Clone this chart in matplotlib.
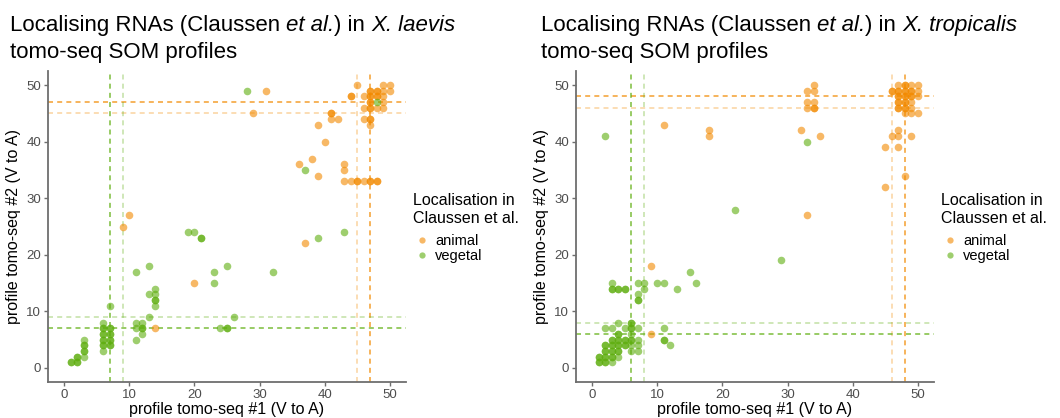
'''
scatter of SOM profile positions of localising RNAs in two tomo-seq runs, X. laevis and X. tropicalis
'''
## Imports
import matplotlib
matplotlib.use("Agg")
import matplotlib.pyplot as plt
from matplotlib.lines import Line2D
from matplotlib.text import Annotation

plt.rcParams['font.family'] = ['Liberation Sans', 'DejaVu Sans']

## ---- data: X. laevis ----
laevis_animal_x = [10, 9, 20, 14, 37, 31, 29, 45, 49, 50, 47, 47, 48, 48, 49, 50, 44, 44, 46, 47, 47, 48, 48, 49,
                   47, 47, 49, 46, 47, 47, 48, 49, 41, 41, 41, 42, 46, 47, 47, 47, 39, 40, 38, 36, 39, 43, 43,
                   43, 44, 45, 45, 46, 47, 47, 48, 48]
laevis_animal_y = [27, 25, 15, 7, 22, 49, 45, 50, 50, 50, 49, 49, 49, 49, 49, 49, 48, 48, 48, 48, 48, 48, 48, 48,
                   47, 47, 47, 46, 46, 46, 46, 46, 45, 45, 44, 44, 44, 44, 44, 43, 43, 40, 37, 36, 34, 36, 35,
                   33, 33, 33, 33, 33, 33, 33, 33, 33]
laevis_vegetal_x = [28, 48, 37, 39, 43, 19, 20, 21, 21, 11, 13, 23, 23, 25, 32, 26, 24, 25, 25, 14, 14, 14, 14, 14,
                    13, 13, 11, 12, 11, 12, 12, 12, 11, 7, 7, 7, 7, 7, 7, 7, 7, 7, 6, 6, 6, 6, 6, 6, 6, 6, 6,
                    6, 3, 3, 3, 3, 3, 3, 2, 2, 2, 2, 1, 1]
laevis_vegetal_y = [49, 47, 35, 23, 24, 24, 24, 23, 23, 17, 18, 17, 15, 18, 17, 9, 7, 7, 7, 14, 13, 12, 12, 11,
                    13, 9, 8, 8, 7, 7, 7, 6, 5, 11, 7, 7, 6, 6, 5, 5, 4, 4, 8, 7, 7, 6, 6, 5, 5, 4, 4,
                    3, 5, 4, 4, 3, 3, 2, 2, 2, 1, 1, 1, 1]
laevis_animal_lines = [45, 47]    # light, dark
laevis_vegetal_lines = [9, 7]     # light, dark

## ---- data: X. tropicalis ----
trop_animal_x = [11, 18, 18, 9, 9, 34, 33, 34, 33, 34, 33, 34, 34, 32, 35, 33, 45, 48, 45, 47, 46, 47, 47, 49,
                 47, 48, 48, 49, 50, 46, 46, 47, 47, 48, 48, 49, 49, 50, 47, 47, 48, 48, 49, 49, 50,
                 47, 47, 48, 48, 49, 47, 47, 48, 48, 49, 48, 49, 50]
trop_animal_y = [43, 42, 41, 18, 6, 50, 49, 49, 47, 47, 46, 46, 46, 42, 41, 27, 32, 34, 39, 39, 41, 41, 42, 41,
                 50, 50, 50, 50, 50, 49, 49, 49, 49, 49, 49, 49, 49, 49, 48, 48, 48, 48, 48, 48, 48,
                 47, 47, 47, 47, 47, 46, 46, 46, 46, 46, 45, 45, 45]
trop_vegetal_x = [2, 22, 33, 29, 15, 16, 13, 10, 11, 7, 8, 8, 7, 7, 7, 3, 3, 3, 4, 4, 5, 5, 11, 11, 11, 12,
                  4, 6, 6, 2, 3, 5, 6, 6, 7, 4, 4, 6,
                  3, 3, 4, 4, 5, 5, 6, 6, 7,
                  2, 2, 3, 3, 4, 4, 5, 5, 6, 7,
                  2, 2, 3, 3, 4, 4, 6, 7,
                  1, 1, 2, 2, 3, 3, 4, 1, 1, 2, 2, 3]
trop_vegetal_y = [41, 28, 40, 19, 17, 15, 14, 15, 15, 15, 15, 14, 13, 12, 12, 15, 14, 14, 14, 14, 14, 14, 7, 5, 5, 4,
                  8, 8, 8, 7, 7, 7, 7, 7, 7, 6, 6, 6,
                  5, 5, 5, 5, 5, 5, 5, 5, 5,
                  4, 4, 4, 4, 4, 4, 4, 4, 4, 4,
                  3, 3, 3, 3, 3, 3, 3, 3,
                  2, 2, 2, 2, 2, 2, 2, 1, 1, 1, 1, 1]
trop_animal_lines = [46, 48]
trop_vegetal_lines = [8, 6]

## title pieces: (text, italic)
title_laevis = [('Localising RNAs (Claussen ', False), ('et al.', True), (') in ', False), ('X. laevis', True)]
title_trop = [('Localising RNAs (Claussen ', False), ('et al.', True), (') in ', False), ('X. tropicalis', True)]
subtitle = 'tomo-seq SOM profiles'

## colours
ORANGE = '#F28A00'
GREEN = '#5EAE0E'

def draw_panel(ax, ax_x, ax_y, av_x, av_y, a_lines, v_lines):
    '''
    draws one panel: reference lines, points, axes styling
    '''
    ## dashed reference lines, first one light, second one dark
    for val, alpha in zip(a_lines, [0.35, 0.75]):
        ax.axhline(val, color=ORANGE, alpha=alpha, lw=1.2, ls=(0, (3, 2.5)), zorder=1)
        ax.axvline(val, color=ORANGE, alpha=alpha, lw=1.2, ls=(0, (3, 2.5)), zorder=1)
    for val, alpha in zip(v_lines, [0.35, 0.75]):
        ax.axhline(val, color=GREEN, alpha=alpha, lw=1.2, ls=(0, (3, 2.5)), zorder=1)
        ax.axvline(val, color=GREEN, alpha=alpha, lw=1.2, ls=(0, (3, 2.5)), zorder=1)
    ## points
    ax.scatter(ax_x, ax_y, s=30, color=ORANGE, alpha=0.6, linewidths=0, zorder=2)
    ax.scatter(av_x, av_y, s=30, color=GREEN, alpha=0.6, linewidths=0, zorder=2)
    ## axes
    ax.set_xlim(-2.5, 52.5)
    ax.set_ylim(-2.5, 52.5)
    ax.set_xticks([0, 10, 20, 30, 40, 50])
    ax.set_yticks([0, 10, 20, 30, 40, 50])
    for side in ['top', 'right']:
        ax.spines[side].set_visible(False)
    for side in ['left', 'bottom']:
        ax.spines[side].set_color('#6E6E6E')
        ax.spines[side].set_linewidth(1.3)
    ax.tick_params(length=3, width=1, color='#6E6E6E', labelcolor='#4D4D4D', labelsize=9.5, pad=2)
    ax.set_xlabel('profile tomo-seq #1 (V to A)', fontsize=11.5, labelpad=1)
    ax.set_ylabel('profile tomo-seq #2 (V to A)', fontsize=11.5, labelpad=4)
    ## legend
    handles = [Line2D([], [], ls='', marker='o', ms=4.5, color=ORANGE, alpha=0.6, mec='none', label='animal'),
               Line2D([], [], ls='', marker='o', ms=4.5, color=GREEN, alpha=0.6, mec='none', label='vegetal')]
    leg = ax.legend(handles=handles, title='Localisation in\nClaussen et al.', loc='upper left',
                    bbox_to_anchor=(1.0, 0.63), frameon=False, fontsize=10.5, title_fontsize=11.5,
                    handletextpad=0.3, handlelength=1.2, labelspacing=0.05, borderaxespad=0.1)
    leg._legend_box.align = 'left'
    leg._legend_box.sep = 6

def chain_title(fig, x, pieces):
    '''
    first title line written piece by piece, each annotated at the right-bottom corner of the previous one
    '''
    prev = fig.text(x / 1060, 1 - 31 / 418, pieces[0][0], fontsize=16, va='baseline', ha='left')
    for txt, italic in pieces[1:]:
        prev = fig.add_artist(Annotation(txt, xy=(1, 0), xycoords=prev, fontsize=16, ha='left', va='bottom',
                                         style='italic' if italic else 'normal'))
    fig.text(x / 1060, 1 - 58 / 418, subtitle, fontsize=16, va='baseline', ha='left')

def main():
    fig = plt.figure(figsize=(10.6, 4.18), dpi=100)
    ax1 = fig.add_axes([48 / 1060, 36 / 418, 358 / 1060, 311 / 418])
    ax2 = fig.add_axes([576 / 1060, 36 / 418, 358 / 1060, 311 / 418])
    draw_panel(ax1, laevis_animal_x, laevis_animal_y, laevis_vegetal_x, laevis_vegetal_y,
               laevis_animal_lines, laevis_vegetal_lines)
    draw_panel(ax2, trop_animal_x, trop_animal_y, trop_vegetal_x, trop_vegetal_y,
               trop_animal_lines, trop_vegetal_lines)
    ## titles
    chain_title(fig, 10, title_laevis)
    chain_title(fig, 541, title_trop)
    fig.savefig('out.png', dpi=100)

if __name__ == "__main__":
    main()
